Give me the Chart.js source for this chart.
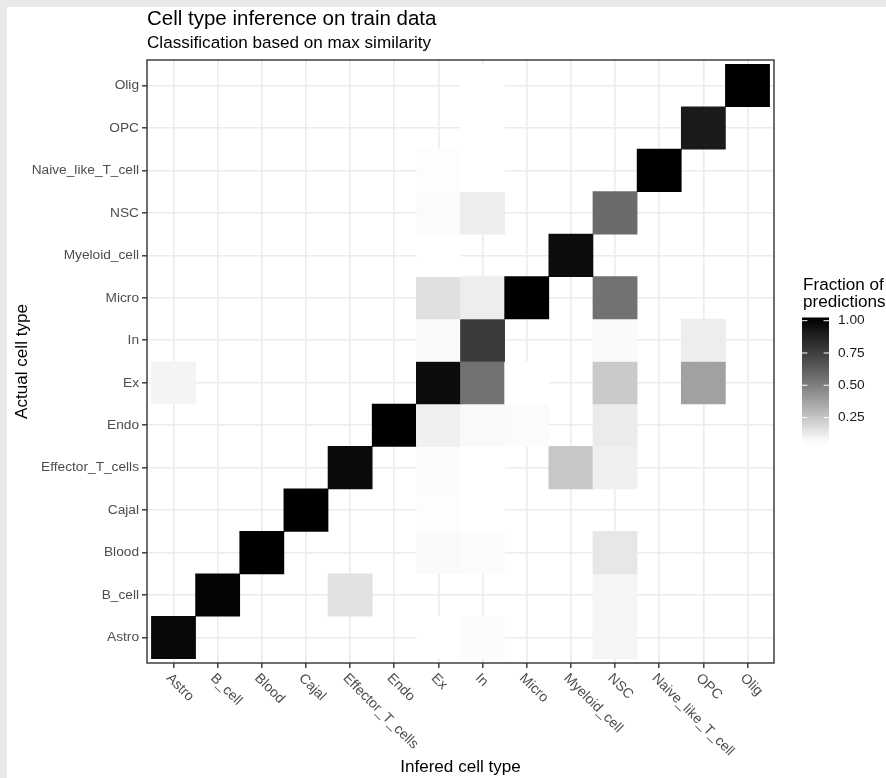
<!DOCTYPE html>
<html>
<head>
<meta charset="utf-8">
<script src="https://cdn.jsdelivr.net/npm/chart.js@4"></script>
<style>
  html, body { margin: 0; padding: 0; background: #e9e9eb; }
  #wrap { position: absolute; left: 7px; top: 7px; width: 879px; height: 771px; background: #fff; }
</style>
</head>
<body>
<div id="wrap"><canvas id="heat"></canvas></div>
<script>
// inferred types along x, actual types along y (bottom to top), same order
const inferredTypes = ["Astro", "B_cell", "Blood", "Cajal", "Effector_T_cells", "Endo", "Ex", "In",
                       "Micro", "Myeloid_cell", "NSC", "Naive_like_T_cell", "OPC", "Olig"];
const actualTypes = inferredTypes.slice();

// one row per actual cell type, one value per inferred type (null = no tile)
const n = null;
const astroRow   = [0.98, n, n, n, n, n, 0.058, 0.067, n, n, 0.089, n, n, n];
const bCellRow   = [n, 0.99, n, n, 0.155, n, n, n, n, n, 0.089, n, n, n];
const bloodRow   = [n, n, 1.0, n, n, n, 0.075, 0.067, n, n, 0.136, n, n, n];
const cajalRow   = [n, n, n, 1.0, n, n, 0.063, 0.058, n, n, n, n, n, n];
const effTRow    = [n, n, n, n, 0.975, n, 0.067, 0.058, n, 0.245, 0.108, n, n, n];
const endoRow    = [n, n, n, n, n, 1.0, 0.108, 0.075, 0.07, n, 0.122, n, n, n];
const exRow      = [0.094, n, n, n, n, n, 0.97, 0.547, 0.058, n, 0.235, n, 0.377, n];
const inRow      = [n, n, n, n, n, n, 0.075, 0.764, n, n, 0.075, n, 0.118, n];
const microRow   = [n, n, n, n, n, n, 0.16, 0.118, 1.0, n, 0.547, n, n, n];
const myeloidRow = [n, n, n, n, n, n, 0.058, n, n, 0.97, n, n, n, n];
const nscRow     = [n, n, n, n, n, n, 0.07, 0.118, n, n, 0.575, n, n, n];
const naiveRow   = [n, n, n, n, n, n, 0.065, 0.058, n, n, n, 1.0, n, n];
const opcRow     = [n, n, n, n, n, n, n, 0.058, n, n, n, n, 0.912, n];
const oligRow    = [n, n, n, n, n, n, n, 0.058, n, n, n, n, n, 1.0];

const legendBreaks = [0.25, 0.5, 0.75, 1.0];

const rows = [astroRow, bCellRow, bloodRow, cajalRow, effTRow, endoRow, exRow,
              inRow, microRow, myeloidRow, nscRow, naiveRow, opcRow, oligRow];

const tiles = [];
rows.forEach((row, r) => {
    row.forEach((v, c) => {
        if (v !== null) tiles.push({ x: c, y: [r - 0.5, r + 0.5], v: v });
    });
});

const allValues = tiles.map(t => t.v);
const vMin = Math.min(...allValues);
const vMax = Math.max(...allValues);

// white -> black through Lab lightness, like ggplot's gradient
function fillFor(v) {
    const t = Math.min(1, Math.max(0, (v - vMin) / (vMax - vMin)));
    const L = 100 * (1 - t);
    const Y = L > 8 ? Math.pow((L + 16) / 116, 3) : L / 903.3;
    const s = Y <= 0.0031308 ? 12.92 * Y : 1.055 * Math.pow(Y, 1 / 2.4) - 0.055;
    const g = Math.round(255 * Math.min(1, Math.max(0, s)));
    return `rgb(${g},${g},${g})`;
}

const FONT = '"Liberation Sans", Arial, Helvetica, sans-serif';

const panelBits = {
    id: 'panelBits',
    afterDraw(chart) {
        const { ctx, chartArea: a } = chart;
        const xs = chart.scales.x;
        ctx.save();

        // panel border
        ctx.strokeStyle = '#333';
        ctx.lineWidth = 1.4;
        ctx.strokeRect(a.left, a.top, a.right - a.left, a.bottom - a.top);

        // title + subtitle, aligned to the panel
        ctx.fillStyle = '#000';
        ctx.textAlign = 'left';
        ctx.textBaseline = 'alphabetic';
        ctx.font = `20.5px ${FONT}`;
        ctx.fillText('Cell type inference on train data', a.left, 18);
        ctx.font = `17.1px ${FONT}`;
        ctx.fillText('Classification based on max similarity', a.left, 41);

        // rotated x tick labels (angle -45, hjust 0)
        ctx.fillStyle = '#4d4d4d';
        ctx.font = `14px ${FONT}`;
        ctx.textBaseline = 'middle';
        inferredTypes.forEach((lab, i) => {
            const px = xs.getPixelForValue(i);
            ctx.save();
            ctx.translate(px - 5, a.bottom + 13);
            ctx.rotate(Math.PI / 4);
            ctx.fillText(lab, 0, 0);
            ctx.restore();
        });

        // colour bar legend
        const mid = (a.top + a.bottom) / 2;
        const barW = 27, barH = 128;
        const barL = a.right + 28;
        const barB = mid + 84;
        const barT = barB - barH;
        const inner = barH * 19 / 20;
        const posFor = v => barT + barH / 40 + (vMax - v) / (vMax - vMin) * inner;

        const grad = ctx.createLinearGradient(0, barT, 0, barB);
        for (let k = 0; k <= 20; k++) {
            const y = barT + barH * k / 20;
            const v = vMax - ((y - barT - barH / 40) / inner) * (vMax - vMin);
            grad.addColorStop(k / 20, fillFor(Math.min(vMax, Math.max(vMin, v))));
        }
        ctx.fillStyle = grad;
        ctx.fillRect(barL, barT, barW, barH);

        ctx.strokeStyle = '#fff';
        ctx.lineWidth = 1;
        ctx.fillStyle = '#1a1a1a';
        ctx.font = `13.7px ${FONT}`;
        ctx.textAlign = 'left';
        ctx.textBaseline = 'middle';
        legendBreaks.forEach(b => {
            const y = posFor(b);
            ctx.beginPath();
            ctx.moveTo(barL, y); ctx.lineTo(barL + barW / 5, y);
            ctx.moveTo(barL + barW, y); ctx.lineTo(barL + barW - barW / 5, y);
            ctx.stroke();
            ctx.fillText(b.toFixed(2), barL + barW + 9, y);
        });

        ctx.fillStyle = '#000';
        ctx.font = `17.1px ${FONT}`;
        ctx.textBaseline = 'alphabetic';
        ctx.fillText('Fraction of', barL + 1, barT - 28);
        ctx.fillText('predictions', barL + 1, barT - 11);

        ctx.restore();
    }
};

const gridStyle = {
    color: '#ebebeb',
    lineWidth: 1.6,
    offset: false,
    drawTicks: true,
    tickLength: 5,
    tickColor: '#333',
    tickWidth: 1.4
};

new Chart(document.getElementById('heat'), {
    type: 'bar',
    data: {
        datasets: [{
            data: tiles,
            backgroundColor: c => (c.raw ? fillFor(c.raw.v) : '#000'),
            borderWidth: 0,
            barPercentage: 1,
            categoryPercentage: 1,
            grouped: false
        }]
    },
    options: {
        responsive: true,
        maintainAspectRatio: false,
        animation: false,
        events: [],
        layout: { padding: { top: 53, right: 112, bottom: 0, left: 0 } },
        plugins: {
            legend: { display: false },
            tooltip: { enabled: false }
        },
        scales: {
            x: {
                type: 'linear',
                min: -0.6,
                max: 13.6,
                offset: false,
                afterBuildTicks: s => { s.ticks = inferredTypes.map((_, i) => ({ value: i })); },
                afterFit: s => { s.height = 115; },
                ticks: { display: false },
                grid: gridStyle,
                border: { display: false },
                title: {
                    display: true,
                    text: 'Infered cell type',
                    color: '#000',
                    font: { family: FONT, size: 17.1, lineHeight: 1.2 },
                    padding: { top: 0, bottom: 0 }
                }
            },
            y: {
                type: 'linear',
                min: -0.6,
                max: 13.6,
                offset: false,
                afterBuildTicks: s => { s.ticks = actualTypes.map((_, i) => ({ value: i })); },
                afterFit: s => { s.width = 140; },
                ticks: {
                    autoSkip: false,
                    padding: 3,
                    color: '#4d4d4d',
                    font: { family: FONT, size: 13.7 },
                    callback: v => actualTypes[v]
                },
                grid: gridStyle,
                border: { display: false },
                title: {
                    display: true,
                    text: 'Actual cell type',
                    color: '#000',
                    font: { family: FONT, size: 17.1, lineHeight: 1.2 },
                    padding: { top: 5, bottom: 0 }
                }
            }
        }
    },
    plugins: [panelBits]
});
</script>
</body>
</html>
